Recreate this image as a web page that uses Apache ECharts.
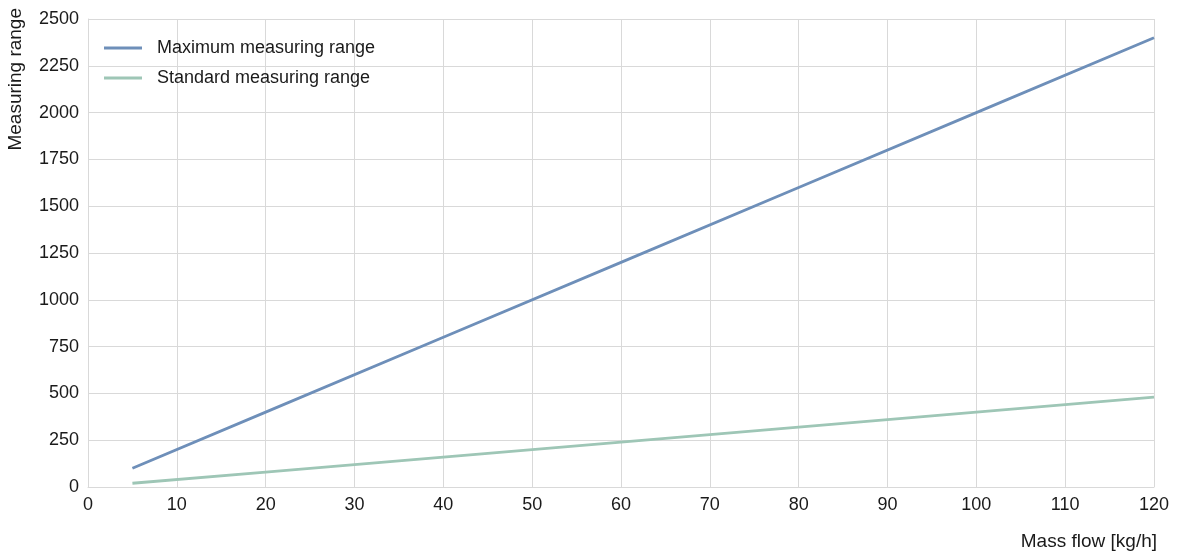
<!DOCTYPE html>
<html>
<head>
<meta charset="utf-8">
<script src="https://cdn.jsdelivr.net/npm/echarts@6/dist/echarts.min.js"></script>
<style>
html, body { margin: 0; padding: 0; background: #fff; }
#main { width: 1179px; height: 555px; }
</style>
</head>
<body>
<div id="main"></div>
<script>
var massFlow = [5, 20, 40, 60, 80, 100, 120];
var maxRange = [100, 400, 800, 1200, 1600, 2000, 2400];
var stdRange = [20, 80, 160, 240, 320, 400, 480];
var seriesNames = ['Maximum measuring range', 'Standard measuring range'];

function toPairs(xs, ys) {
    var out = [];
    for (var i = 0; i < xs.length; i++) {
        out.push([xs[i], ys[i]]);
    }
    return out;
}

var font = 'Helvetica, "Liberation Sans", Arial, sans-serif';
var gridColor = '#d9d9d9';

var chart = echarts.init(document.getElementById('main'));
var option = {
    animation: false,
    textStyle: { fontFamily: font },
    grid: { left: 88, right: 25, top: 19, bottom: 68, containLabel: false },
    legend: {
        orient: 'vertical',
        left: 104,
        top: 39,
        padding: 0,
        icon: 'rect',
        itemWidth: 38,
        itemHeight: 3,
        itemGap: 12,
        textStyle: { fontSize: 18, color: '#1a1a1a', fontFamily: font, padding: [0, 0, 0, 10] },
        data: seriesNames
    },
    xAxis: {
        type: 'value',
        min: 0,
        max: 120,
        interval: 10,
        axisLine: { show: true, lineStyle: { color: gridColor, width: 1 } },
        axisTick: { show: false },
        axisLabel: { fontSize: 18, color: '#1a1a1a', margin: 9, fontFamily: font },
        splitLine: { show: true, lineStyle: { color: gridColor, width: 1 } }
    },
    yAxis: {
        type: 'value',
        min: 0,
        max: 2500,
        interval: 250,
        axisLine: { show: true, lineStyle: { color: gridColor, width: 1 } },
        axisTick: { show: false },
        axisLabel: {
            fontSize: 18, color: '#1a1a1a', margin: 9, fontFamily: font,
            formatter: function (v) { return String(v); }
        },
        splitLine: { show: true, lineStyle: { color: gridColor, width: 1 } }
    },
    graphic: [
        {
            type: 'text',
            x: 16, y: 8,
            rotation: Math.PI / 2,
            style: {
                text: 'Measuring range',
                fontSize: 19, fill: '#1a1a1a', fontFamily: font,
                align: 'right', verticalAlign: 'middle'
            }
        },
        {
            type: 'text',
            x: 1157, y: 542,
            style: {
                text: 'Mass flow [kg/h]',
                fontSize: 19, fill: '#1a1a1a', fontFamily: font,
                align: 'right', verticalAlign: 'middle'
            }
        }
    ],
    series: [
        {
            name: seriesNames[0],
            type: 'line',
            symbol: 'none',
            data: toPairs(massFlow, maxRange),
            lineStyle: { color: '#6e8fb9', width: 2.8 },
            itemStyle: { color: '#6e8fb9' }
        },
        {
            name: seriesNames[1],
            type: 'line',
            symbol: 'none',
            data: toPairs(massFlow, stdRange),
            lineStyle: { color: '#9ec6b6', width: 2.8 },
            itemStyle: { color: '#9ec6b6' }
        }
    ]
};
chart.setOption(option);
</script>
</body>
</html>
